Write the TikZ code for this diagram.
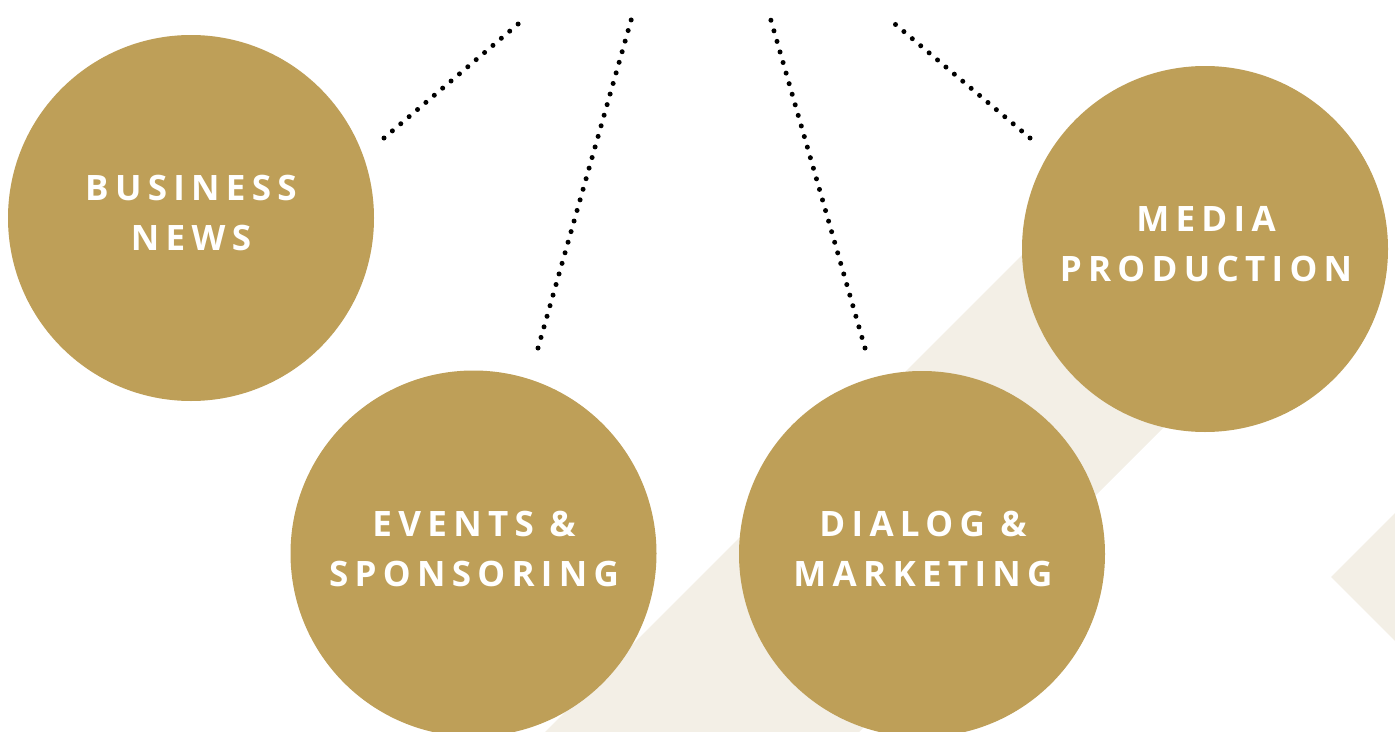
\documentclass[tikz,border=0pt]{standalone}
\usepackage{fontspec}
\setmainfont{Open Sans}
\newfontfamily\lblfont[LetterSpace=18]{Open Sans Bold}
\definecolor{gold}{RGB}{190,159,88}
\definecolor{beige}{RGB}{243,239,230}
\begin{document}
\begin{tikzpicture}[x=1pt,y=-1pt,
  topic/.style={circle,fill=gold,minimum size=366pt,inner sep=0pt},
  lbl/.style={text=white,align=center,font=\lblfont\fontsize{35}{50}\selectfont},
  dotline/.style={line width=5pt,line cap=round,dash pattern=on 0pt off 11pt}]
\useasboundingbox (0,0) rectangle (1395,731);
\begin{scope}
\clip (0,0) rectangle (1395,731);
% band
\fill[beige] (546,731) -- (1100,177) -- (1257,334) -- (860,731) -- cycle;
\fill[beige] (546,731) -- (400,877) -- (714,877) -- (860,731) -- cycle;
% diamond at right edge
\fill[beige] (1331,577) -- (1400,508) -- (1469,577) -- (1400,646) -- cycle;
\end{scope}
% circles
\node[topic] (bn) at (191,218) {};
\node[topic] (es) at (473.5,553.5) {};
\node[topic] (dm) at (922,554) {};
\node[topic] (mp) at (1205,249) {};
% labels
\node[lbl] (bnl) at (191,213) {BUSINESS\\NEWS};
\node[lbl] (esl) at (474,549) {EVENTS \&\\SPONSORING};
\node[lbl] (dml) at (923,549) {DIALOG \&\\MARKETING};
\node[lbl] (mpl) at (1206,244) {MEDIA\\PRODUCTION};
% dotted lines
\coordinate (a1) at (384,138); \coordinate (a2) at (524,19);
\coordinate (b1) at (538,348); \coordinate (b2) at (632,17);
\coordinate (c1) at (865,348); \coordinate (c2) at (770,17);
\coordinate (d1) at (1030,138); \coordinate (d2) at (889,19);
\draw[dotline] (a1) -- (a2);
\draw[dotline] (b1) -- (b2);
\draw[dotline] (c1) -- (c2);
\draw[dotline] (d1) -- (d2);
\end{tikzpicture}
\end{document}
